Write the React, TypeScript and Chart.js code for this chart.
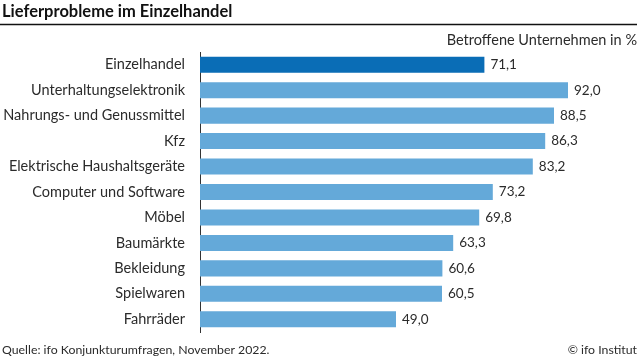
import React, { useEffect, useRef } from "react";
import { Chart, registerables } from "chart.js";

Chart.register(...registerables);

const categories = [
  "Einzelhandel",
  "Unterhaltungselektronik",
  "Nahrungs- und Genussmittel",
  "Kfz",
  "Elektrische Haushaltsgeräte",
  "Computer und Software",
  "Möbel",
  "Baumärkte",
  "Bekleidung",
  "Spielwaren",
  "Fahrräder",
];
const values = [71.1, 92.0, 88.5, 86.3, 83.2, 73.2, 69.8, 63.3, 60.6, 60.5, 49.0];
const title = "Lieferprobleme im Einzelhandel";
const subtitle = "Betroffene Unternehmen in %";
const source = "Quelle: ifo Konjunkturumfragen, November 2022.";
const copyright = "© ifo Institut";

const FONT = "Lato, 'Open Sans', sans-serif";
const TEXT = "#2b2b2b";

const decorPlugin = {
  id: "decor",
  afterDraw(chart: any) {
    const ctx = chart.ctx;
    ctx.save();
    // title
    ctx.fillStyle = "#111";
    ctx.font = `bold 16.5px ${FONT}`;
    ctx.textAlign = "left";
    ctx.textBaseline = "middle";
    ctx.fillText(title, 2, 12);
    // rule
    ctx.strokeStyle = "#111";
    ctx.lineWidth = 1.5;
    ctx.beginPath();
    ctx.moveTo(0, 24.5);
    ctx.lineTo(637, 24.5);
    ctx.stroke();
    // subtitle
    ctx.fillStyle = TEXT;
    ctx.font = `14.5px ${FONT}`;
    ctx.textAlign = "right";
    ctx.fillText(subtitle, 637, 40);
    // footer
    ctx.font = `12.3px ${FONT}`;
    ctx.textAlign = "left";
    ctx.fillText(source, 2, 350);
    ctx.textAlign = "right";
    ctx.fillText(copyright, 637, 350);
    // data labels
    const meta = chart.getDatasetMeta(0);
    ctx.font = `13.5px ${FONT}`;
    ctx.textAlign = "left";
    meta.data.forEach((bar: any, i: number) => {
      const v = values[i];
      ctx.fillText(v.toFixed(1).replace(".", ","), bar.x + 6, bar.y);
    });
    ctx.restore();
  },
};

export default function App() {
  const ref = useRef<HTMLCanvasElement>(null);
  useEffect(() => {
    if (!ref.current) return;
    const chart = new Chart(ref.current, {
      type: "bar",
      data: {
        labels: categories,
        datasets: [
          {
            data: values,
            backgroundColor: values.map((_, i) => (i === 0 ? "#0a6db6" : "#64a9d9")),
            borderWidth: 0,
            barPercentage: 0.63,
            categoryPercentage: 1,
          },
        ],
      },
      options: {
        indexAxis: "y",
        animation: false,
        responsive: false,
        maintainAspectRatio: false,
        layout: { padding: { top: 52, bottom: 28, right: 4, left: 0 } },
        plugins: {
          legend: { display: false },
          tooltip: { enabled: false },
          title: { display: false },
        },
        scales: {
          x: {
            display: false,
            min: 0,
            max: 109,
          },
          y: {
            afterFit(scale: any) {
              scale.width = 200;
            },
            grid: { display: false, drawTicks: false },
            border: { display: true, color: "#333", width: 1 },
            ticks: {
              color: TEXT,
              font: { family: FONT, size: 14.5 },
              padding: 15,
            },
          },
        },
      },
      plugins: [decorPlugin],
    });
    return () => chart.destroy();
  }, []);
  return (
    <div style={{ position: "fixed", left: 0, top: 0, width: 640, height: 360, background: "#fff" }}>
      <canvas ref={ref} width={640} height={360} style={{ display: "block" }} />
    </div>
  );
}
